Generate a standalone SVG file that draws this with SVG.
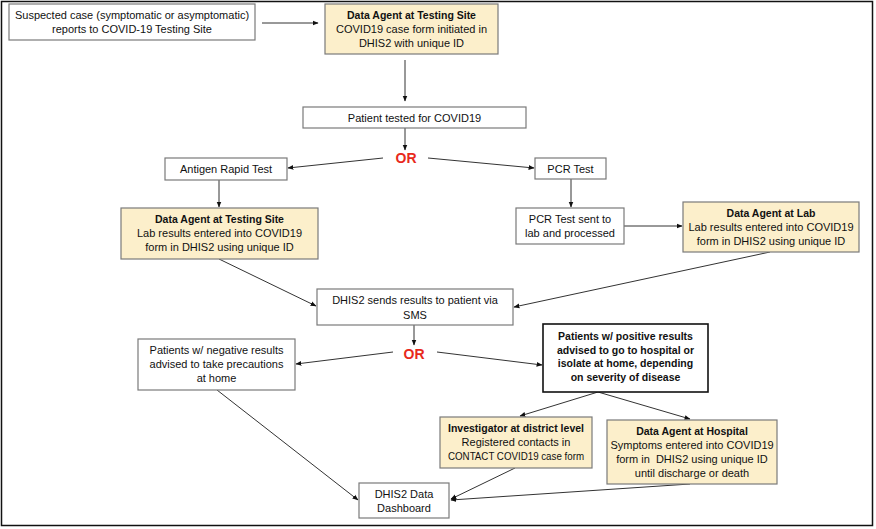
<svg xmlns="http://www.w3.org/2000/svg" width="876" height="529" viewBox="0 0 876 529">
<defs>
<marker id="ah" viewBox="0 0 10 10" refX="9" refY="5" markerWidth="6" markerHeight="6" orient="auto" markerUnits="userSpaceOnUse">
<path d="M0,1 L10,5 L0,9 Z" fill="#111"/>
</marker>
<style>
.box{fill:#fff;stroke:#7a7a7a;stroke-width:1.2}
.ybox{fill:#fcefcb;stroke:#7a7a7a;stroke-width:1.2}
.bbox{fill:#fff;stroke:#111;stroke-width:1.6}
text{font-family:"Liberation Sans",Arial,sans-serif;font-size:11px;fill:#111;text-anchor:middle}
.b{font-weight:bold;font-size:10.5px}
.or{font-weight:bold;fill:#e8291c;font-size:14px}
.c{fill:none;stroke:#333;stroke-width:1;marker-end:url(#ah)}
</style>
</defs>
<rect x="1.5" y="1.5" width="871" height="524" fill="#fff" stroke="#111" stroke-width="1.5"/>

<g id="connectors">
<line class="c" x1="262" y1="23" x2="318" y2="23"/>
<line class="c" x1="405" y1="60" x2="405" y2="101"/>
<line class="c" x1="405" y1="128" x2="405" y2="150"/>
<line class="c" x1="383" y1="158" x2="288" y2="168"/>
<line class="c" x1="428" y1="158" x2="534" y2="168"/>
<line class="c" x1="219" y1="180" x2="219" y2="207"/>
<line class="c" x1="571" y1="179" x2="571" y2="207"/>
<line class="c" x1="624" y1="226" x2="682" y2="226"/>
<line class="c" x1="219" y1="259" x2="316" y2="306"/>
<line class="c" x1="770" y1="252" x2="514" y2="307"/>
<line class="c" x1="414" y1="325" x2="414" y2="345"/>
<line class="c" x1="393" y1="352" x2="296" y2="364"/>
<line class="c" x1="437" y1="352" x2="542" y2="365"/>
<line class="c" x1="598" y1="392" x2="520" y2="416"/>
<line class="c" x1="598" y1="392" x2="690" y2="419"/>
<line class="c" x1="217" y1="390" x2="358" y2="500"/>
<line class="c" x1="515" y1="468" x2="451" y2="499"/>
<line class="c" x1="690" y1="484" x2="451" y2="500"/>
</g>

<g id="suspected">
<rect class="box" x="9" y="4" width="246" height="36"/>
<text x="132" y="19">Suspected case (symptomatic or asymptomatic)</text>
<text x="132" y="33">reports to COVID-19 Testing Site</text>
</g>

<g id="agent-testing-1">
<rect class="ybox" x="325" y="4" width="173" height="50"/>
<text class="b" x="411.5" y="19">Data Agent at Testing Site</text>
<text x="411.5" y="33">COVID19 case form initiated in</text>
<text x="411.5" y="47">DHIS2 with unique ID</text>
</g>

<g id="tested">
<rect class="box" x="303" y="107" width="223" height="21"/>
<text x="414.5" y="122">Patient tested for COVID19</text>
</g>

<g id="or1"><text class="or" x="406" y="163">OR</text></g>

<g id="antigen">
<rect class="box" x="165" y="158" width="122" height="22"/>
<text x="226" y="173">Antigen Rapid Test</text>
</g>

<g id="pcr">
<rect class="box" x="535" y="158" width="71" height="21"/>
<text x="570.5" y="172.5">PCR Test</text>
</g>

<g id="agent-testing-2">
<rect class="ybox" x="121" y="208" width="197" height="51"/>
<text class="b" x="219.5" y="223">Data Agent at Testing Site</text>
<text x="219.5" y="237">Lab results entered into COVID19</text>
<text x="219.5" y="251">form in DHIS2 using unique ID</text>
</g>

<g id="pcr-sent">
<rect class="box" x="516" y="208" width="108" height="36"/>
<text x="570" y="223">PCR Test sent to</text>
<text x="570" y="237">lab and processed</text>
</g>

<g id="agent-lab">
<rect class="ybox" x="683" y="202" width="176" height="50"/>
<text class="b" x="771" y="217">Data Agent at Lab</text>
<text x="771" y="231">Lab results entered into COVID19</text>
<text x="771" y="245">form in DHIS2 using unique ID</text>
</g>

<g id="sms">
<rect class="box" x="317" y="289" width="196" height="36"/>
<text x="415" y="304">DHIS2 sends results to patient via</text>
<text x="415" y="319">SMS</text>
</g>

<g id="or2"><text class="or" x="414" y="359">OR</text></g>

<g id="negative">
<rect class="box" x="138" y="339" width="157" height="51"/>
<text x="216.5" y="354">Patients w/ negative results</text>
<text x="216.5" y="368">advised to take precautions</text>
<text x="216.5" y="382">at home</text>
</g>

<g id="positive">
<rect class="bbox" x="543" y="324" width="165" height="68"/>
<text class="b" x="625.5" y="340">Patients w/ positive results</text>
<text class="b" x="625.5" y="354">advised to go to hospital or</text>
<text class="b" x="625.5" y="367">isolate at home, depending</text>
<text class="b" x="625.5" y="381">on severity of disease</text>
</g>

<g id="investigator">
<rect class="ybox" x="440" y="417" width="152" height="51"/>
<text class="b" x="516" y="432">Investigator at district level</text>
<text x="516" y="446">Registered contacts in</text>
<text x="516" y="460" textLength="136" lengthAdjust="spacingAndGlyphs">CONTACT COVID19 case form</text>
</g>

<g id="agent-hospital">
<rect class="ybox" x="607" y="420" width="170" height="64"/>
<text class="b" x="692" y="435">Data Agent at Hospital</text>
<text x="692" y="449">Symptoms entered into COVID19</text>
<text x="692" y="463" xml:space="preserve">form in  DHIS2 using unique ID</text>
<text x="692" y="477">until discharge or death</text>
</g>

<g id="dashboard">
<rect class="box" x="359" y="483" width="90" height="35"/>
<text x="404" y="498">DHIS2 Data</text>
<text x="404" y="512">Dashboard</text>
</g>
</svg>
